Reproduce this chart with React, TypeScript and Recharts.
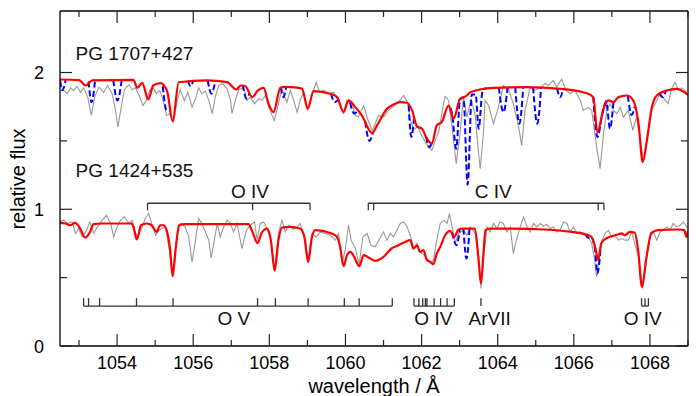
import React from 'react';
import { LineChart, Line, XAxis, YAxis, ReferenceLine, ReferenceDot } from 'recharts';

type Pt = [number, number];

// ---------- axis ticks ----------
const xTicks = [1053, 1054, 1055, 1056, 1057, 1058, 1059, 1060, 1061, 1062, 1063, 1064, 1065, 1066, 1067, 1068, 1069];
const xLabelTicks = [1054, 1056, 1058, 1060, 1062, 1064, 1066, 1068];
const yTicks = [0, 0.5, 1, 1.5, 2];
const yLabelTicks = [0, 1, 2];

// ---------- PG 1707+427 (shifted by +1) ----------
const topObserved: Pt[] = [
  [1052.50, 1.942], [1052.56, 1.883], [1052.69, 1.845], [1052.78, 1.888], [1052.86, 1.869], [1052.95, 1.898],
  [1053.04, 1.856], [1053.12, 1.888], [1053.23, 1.820], [1053.32, 1.686], [1053.41, 1.820], [1053.52, 1.893],
  [1053.65, 1.856], [1053.75, 1.905], [1053.87, 1.845], [1053.96, 1.723], [1054.02, 1.601], [1054.11, 1.747],
  [1054.19, 1.874], [1054.31, 1.912], [1054.40, 1.874], [1054.48, 1.888], [1054.57, 1.839], [1054.68, 1.759],
  [1054.77, 1.796], [1054.86, 1.874], [1054.95, 1.888], [1055.03, 1.845], [1055.12, 1.869], [1055.21, 1.796],
  [1055.30, 1.686], [1055.38, 1.699], [1055.47, 1.637], [1055.58, 1.796], [1055.66, 1.874], [1055.77, 1.796],
  [1055.86, 1.856], [1055.97, 1.747], [1056.06, 1.808], [1056.14, 1.888], [1056.23, 1.845], [1056.32, 1.864],
  [1056.41, 1.796], [1056.50, 1.699], [1056.58, 1.820], [1056.67, 1.905], [1056.78, 1.918], [1056.89, 1.881],
  [1056.98, 1.796], [1057.02, 1.701], [1057.11, 1.796], [1057.19, 1.874], [1057.33, 1.888], [1057.41, 1.796],
  [1057.50, 1.820], [1057.61, 1.772], [1057.72, 1.808], [1057.81, 1.796], [1057.90, 1.832], [1057.98, 1.747],
  [1058.13, 1.650], [1058.24, 1.772], [1058.33, 1.881], [1058.46, 1.783], [1058.55, 1.869], [1058.64, 1.796],
  [1058.73, 1.710], [1058.81, 1.796], [1058.90, 1.856], [1059.01, 1.723], [1059.12, 1.832], [1059.23, 1.929],
  [1059.32, 1.856], [1059.43, 1.869], [1059.56, 1.845], [1059.69, 1.856], [1059.82, 1.796], [1059.95, 1.703],
  [1060.04, 1.796], [1060.17, 1.772], [1060.26, 1.686], [1060.34, 1.674], [1060.48, 1.759], [1060.58, 1.662],
  [1060.70, 1.577], [1060.78, 1.626], [1060.87, 1.686], [1061.00, 1.674], [1061.13, 1.723], [1061.26, 1.752],
  [1061.39, 1.783], [1061.53, 1.832], [1061.63, 1.783], [1061.70, 1.662], [1061.79, 1.582], [1061.89, 1.601],
  [1061.98, 1.553], [1062.10, 1.491], [1062.18, 1.455], [1062.27, 1.431], [1062.36, 1.504], [1062.45, 1.564],
  [1062.56, 1.747], [1062.62, 1.825], [1062.71, 1.796], [1062.82, 1.553], [1062.91, 1.334], [1063.01, 1.553],
  [1063.10, 1.820], [1063.19, 1.674], [1063.30, 1.810], [1063.41, 1.686], [1063.49, 1.431], [1063.54, 1.297],
  [1063.62, 1.540], [1063.67, 1.796], [1063.76, 1.759], [1063.89, 1.626], [1064.02, 1.747], [1064.15, 1.905],
  [1064.28, 1.881], [1064.41, 1.772], [1064.55, 1.601], [1064.63, 1.467], [1064.72, 1.723], [1064.85, 1.888],
  [1064.98, 1.869], [1065.12, 1.888], [1065.25, 1.922], [1065.33, 1.905], [1065.46, 1.942], [1065.55, 1.893],
  [1065.68, 1.951], [1065.80, 1.869], [1065.90, 1.845], [1066.03, 1.869], [1066.17, 1.796], [1066.25, 1.723],
  [1066.38, 1.747], [1066.47, 1.723], [1066.60, 1.455], [1066.69, 1.297], [1066.78, 1.553], [1066.87, 1.723],
  [1066.95, 1.772], [1067.04, 1.723], [1067.13, 1.699], [1067.22, 1.747], [1067.30, 1.674], [1067.43, 1.723],
  [1067.55, 1.577], [1067.65, 1.674], [1067.79, 1.431], [1067.83, 1.345], [1067.92, 1.504], [1068.05, 1.723],
  [1068.18, 1.796], [1068.27, 1.845], [1068.40, 1.796], [1068.48, 1.772], [1068.57, 1.881], [1068.66, 1.929],
  [1068.75, 1.869], [1068.84, 1.888], [1068.92, 1.869], [1069.00, 1.837],
];

const topModelRed: Pt[] = [
  [1052.50, 1.949], [1053.00, 1.945], [1053.17, 1.905], [1053.35, 1.942], [1054.43, 1.947], [1054.53, 1.888],
  [1054.66, 1.925], [1054.82, 1.803], [1054.95, 1.905], [1055.14, 1.922], [1055.31, 1.869], [1055.46, 1.645],
  [1055.62, 1.929], [1056.36, 1.942], [1056.89, 1.930], [1057.13, 1.876], [1057.25, 1.905], [1057.37, 1.900],
  [1057.55, 1.820], [1057.70, 1.870], [1057.85, 1.888], [1057.98, 1.772], [1058.11, 1.710], [1058.29, 1.888],
  [1058.42, 1.895], [1058.73, 1.890], [1058.86, 1.881], [1059.01, 1.735], [1059.16, 1.864], [1059.60, 1.845],
  [1059.78, 1.820], [1059.95, 1.710], [1060.08, 1.796], [1060.26, 1.747], [1060.43, 1.686], [1060.70, 1.557],
  [1060.83, 1.613], [1061.09, 1.735], [1061.26, 1.766], [1061.44, 1.783], [1061.62, 1.779], [1061.75, 1.723],
  [1061.88, 1.606], [1062.01, 1.589], [1062.14, 1.516], [1062.27, 1.480], [1062.40, 1.613], [1062.53, 1.637],
  [1062.71, 1.759], [1062.84, 1.662], [1063.01, 1.808], [1063.19, 1.832], [1063.28, 1.856], [1063.89, 1.888],
  [1064.77, 1.893], [1065.64, 1.881], [1066.34, 1.849], [1066.51, 1.820], [1066.62, 1.564], [1066.78, 1.735],
  [1066.91, 1.796], [1067.04, 1.783], [1067.17, 1.820], [1067.39, 1.832], [1067.56, 1.796], [1067.70, 1.626],
  [1067.81, 1.345], [1067.92, 1.504], [1068.05, 1.747], [1068.18, 1.832], [1068.44, 1.869], [1068.70, 1.881],
  [1069.00, 1.837],
];

// blue dashed model: only where it departs from the red one
const topModelBlue: Pt[][] = [
  [[1052.50, 1.940], [1052.56, 1.870], [1052.65, 1.945]],
  [[1053.25, 1.935], [1053.33, 1.783], [1053.42, 1.940]],
  [[1053.90, 1.945], [1054.01, 1.796], [1054.12, 1.945]],
  [[1055.20, 1.900], [1055.30, 1.723], [1055.38, 1.720]],
  [[1055.86, 1.940], [1055.93, 1.900], [1056.00, 1.940]],
  [[1056.38, 1.942], [1056.48, 1.845], [1056.58, 1.938]],
  [[1057.30, 1.910], [1057.40, 1.810], [1057.48, 1.850]],
  [[1058.30, 1.890], [1058.37, 1.820], [1058.44, 1.893]],
  [[1059.62, 1.843], [1059.72, 1.783], [1059.80, 1.800]],
  [[1060.12, 1.780], [1060.23, 1.700], [1060.32, 1.720]],
  [[1060.52, 1.640], [1060.63, 1.500], [1060.72, 1.560]],
  [[1061.66, 1.760], [1061.73, 1.530], [1061.80, 1.660]],
  [[1062.12, 1.530], [1062.20, 1.455], [1062.27, 1.484]],
  [[1062.76, 1.740], [1062.80, 1.700], [1062.91, 1.443], [1063.01, 1.800], [1063.10, 1.820], [1063.21, 1.180],
   [1063.32, 1.840], [1063.42, 1.840], [1063.50, 1.589], [1063.60, 1.860], [1063.70, 1.888]],
  [[1064.03, 1.890], [1064.15, 1.710], [1064.26, 1.890]],
  [[1064.46, 1.893], [1064.57, 1.626], [1064.67, 1.893]],
  [[1064.93, 1.893], [1065.04, 1.626], [1065.14, 1.892]],
  [[1065.56, 1.884], [1065.64, 1.820], [1065.72, 1.880]],
  [[1066.51, 1.820], [1066.62, 1.528], [1066.75, 1.700], [1066.85, 1.790], [1066.95, 1.589], [1067.04, 1.783]],
  [[1067.42, 1.830], [1067.52, 1.690], [1067.60, 1.750]],
  [[1068.25, 1.850], [1068.33, 1.820], [1068.42, 1.865]],
];

// ---------- PG 1424+535 ----------
const bottomObserved: Pt[] = [
  [1052.50, 0.907], [1052.60, 0.920], [1052.69, 0.896], [1052.82, 0.907], [1052.91, 0.823], [1052.99, 0.859],
  [1053.08, 0.798], [1053.20, 0.847], [1053.28, 0.907], [1053.39, 0.823], [1053.48, 0.871], [1053.61, 0.920],
  [1053.72, 0.956], [1053.83, 0.896], [1053.91, 0.798], [1054.00, 0.871], [1054.09, 0.920], [1054.19, 0.944],
  [1054.31, 0.896], [1054.40, 0.920], [1054.48, 0.834], [1054.54, 0.798], [1054.66, 0.871], [1054.74, 0.932],
  [1054.83, 0.969], [1054.92, 0.883], [1055.01, 0.810], [1055.09, 0.847], [1055.18, 0.859], [1055.27, 0.871],
  [1055.36, 0.725], [1055.46, 0.531], [1055.56, 0.774], [1055.66, 0.896], [1055.79, 0.871], [1055.88, 0.798],
  [1055.97, 0.613], [1056.06, 0.774], [1056.14, 0.932], [1056.23, 0.896], [1056.32, 0.834], [1056.41, 0.774],
  [1056.47, 0.642], [1056.54, 0.750], [1056.63, 0.896], [1056.71, 0.798], [1056.80, 0.871], [1056.89, 0.920],
  [1056.98, 0.896], [1057.06, 0.834], [1057.15, 0.896], [1057.28, 0.713], [1057.40, 0.847], [1057.50, 0.883],
  [1057.61, 0.907], [1057.68, 0.774], [1057.76, 0.896], [1057.85, 0.907], [1057.94, 0.859], [1058.04, 0.774],
  [1058.14, 0.555], [1058.24, 0.823], [1058.33, 0.920], [1058.42, 0.834], [1058.51, 0.883], [1058.64, 0.852],
  [1058.73, 0.871], [1058.81, 0.896], [1058.92, 0.798], [1059.02, 0.628], [1059.12, 0.823], [1059.23, 0.798],
  [1059.34, 0.834], [1059.47, 0.823], [1059.60, 0.810], [1059.73, 0.774], [1059.82, 0.823], [1059.91, 0.604],
  [1060.00, 0.713], [1060.08, 0.883], [1060.15, 0.774], [1060.26, 0.713], [1060.36, 0.599], [1060.46, 0.798],
  [1060.57, 0.823], [1060.67, 0.737], [1060.78, 0.725], [1060.90, 0.786], [1061.00, 0.834], [1061.09, 0.774],
  [1061.18, 0.823], [1061.26, 0.798], [1061.35, 0.847], [1061.44, 0.896], [1061.53, 0.907], [1061.62, 0.871],
  [1061.70, 0.810], [1061.79, 0.713], [1061.88, 0.750], [1061.96, 0.688], [1062.07, 0.664], [1062.14, 0.640],
  [1062.23, 0.604], [1062.31, 0.628], [1062.40, 0.774], [1062.49, 0.896], [1062.58, 0.920], [1062.67, 0.896],
  [1062.73, 0.969], [1062.82, 0.847], [1062.88, 0.750], [1062.97, 0.823], [1063.10, 0.847], [1063.19, 0.810],
  [1063.28, 0.871], [1063.41, 0.823], [1063.50, 0.652], [1063.56, 0.421], [1063.63, 0.652], [1063.72, 0.871],
  [1063.80, 0.834], [1063.89, 0.896], [1063.98, 0.859], [1064.06, 0.907], [1064.15, 0.896], [1064.24, 0.834],
  [1064.33, 0.871], [1064.41, 0.677], [1064.50, 0.786], [1064.59, 0.871], [1064.68, 0.944], [1064.77, 0.871],
  [1064.85, 0.834], [1064.94, 0.896], [1065.03, 0.871], [1065.12, 0.896], [1065.20, 0.876], [1065.29, 0.891],
  [1065.38, 0.859], [1065.46, 0.871], [1065.55, 0.834], [1065.64, 0.847], [1065.73, 0.907], [1065.82, 0.896],
  [1065.90, 0.834], [1065.99, 0.871], [1066.08, 0.823], [1066.17, 0.834], [1066.30, 0.810], [1066.38, 0.798],
  [1066.47, 0.750], [1066.54, 0.640], [1066.60, 0.506], [1066.67, 0.652], [1066.74, 0.774], [1066.82, 0.823],
  [1066.91, 0.847], [1067.00, 0.798], [1067.08, 0.810], [1067.17, 0.774], [1067.26, 0.786], [1067.35, 0.774],
  [1067.43, 0.774], [1067.52, 0.834], [1067.61, 0.737], [1067.70, 0.652], [1067.81, 0.421], [1067.92, 0.652],
  [1068.00, 0.798], [1068.09, 0.834], [1068.18, 0.774], [1068.27, 0.834], [1068.35, 0.847], [1068.44, 0.871],
  [1068.53, 0.847], [1068.61, 0.896], [1068.70, 0.871], [1068.79, 0.883], [1068.88, 0.907], [1068.97, 0.871],
  [1069.00, 0.859],
];

const bottomModelRed: Pt[] = [
  [1052.50, 0.900], [1052.64, 0.896], [1052.77, 0.883], [1052.90, 0.900], [1053.03, 0.859], [1053.16, 0.793],
  [1053.29, 0.834], [1053.38, 0.891], [1053.59, 0.896], [1054.38, 0.896], [1054.43, 0.869], [1054.52, 0.779],
  [1054.63, 0.883], [1054.78, 0.896], [1054.91, 0.883], [1055.04, 0.834], [1055.13, 0.883], [1055.22, 0.883],
  [1055.30, 0.847], [1055.39, 0.713], [1055.46, 0.511], [1055.54, 0.713], [1055.63, 0.883], [1055.79, 0.891],
  [1057.45, 0.891], [1057.54, 0.847], [1057.69, 0.752], [1057.80, 0.828], [1057.94, 0.859], [1058.04, 0.774],
  [1058.14, 0.551], [1058.24, 0.774], [1058.33, 0.866], [1058.55, 0.871], [1058.81, 0.859], [1058.92, 0.798],
  [1059.02, 0.615], [1059.12, 0.798], [1059.21, 0.847], [1059.60, 0.827], [1059.78, 0.798], [1059.86, 0.725],
  [1059.95, 0.584], [1060.04, 0.664], [1060.13, 0.688], [1060.23, 0.652], [1060.36, 0.584], [1060.48, 0.664],
  [1060.65, 0.640], [1060.78, 0.623], [1061.00, 0.652], [1061.21, 0.713], [1061.39, 0.737], [1061.57, 0.761],
  [1061.70, 0.774], [1061.79, 0.713], [1061.88, 0.737], [1061.96, 0.688], [1062.05, 0.701], [1062.14, 0.628],
  [1062.23, 0.615], [1062.31, 0.599], [1062.40, 0.677], [1062.49, 0.725], [1062.62, 0.810], [1062.75, 0.842],
  [1062.86, 0.798], [1062.97, 0.852], [1063.10, 0.859], [1063.40, 0.859], [1063.49, 0.652], [1063.56, 0.458],
  [1063.62, 0.652], [1063.68, 0.847], [1063.79, 0.859], [1064.36, 0.859], [1065.24, 0.852], [1065.94, 0.834],
  [1066.29, 0.818], [1066.46, 0.798], [1066.57, 0.713], [1066.64, 0.628], [1066.72, 0.750], [1066.81, 0.779],
  [1066.99, 0.803], [1067.16, 0.815], [1067.25, 0.823], [1067.34, 0.810], [1067.47, 0.834], [1067.60, 0.828],
  [1067.69, 0.701], [1067.79, 0.433], [1067.91, 0.652], [1068.04, 0.827], [1068.21, 0.847], [1068.74, 0.852],
  [1068.90, 0.847], [1068.96, 0.798], [1069.00, 0.839],
];

const bottomModelBlue: Pt[][] = [
  [[1062.80, 0.830], [1062.92, 0.737], [1063.00, 0.850]],
  [[1063.10, 0.859], [1063.18, 0.640], [1063.26, 0.859]],
  [[1066.30, 0.818], [1066.38, 0.790], [1066.46, 0.795], [1066.55, 0.720], [1066.62, 0.531], [1066.70, 0.700]],
];

// ---------- line identifications (wavelengths, Å) ----------
const oIVBracket = [1054.80, 1057.56, 1059.07];
const cIVBracket = [1060.60, 1060.74, 1066.64, 1066.79];
const oVLines = [1053.12, 1053.25, 1053.54, 1054.51, 1055.47, 1057.69, 1058.16, 1059.02, 1059.97, 1060.36, 1061.23];
const oIVLinesA = [1061.80, 1061.93, 1062.03, 1062.10, 1062.14, 1062.33, 1062.50, 1062.67, 1062.86];
const arVIILines = [1063.56];
const oIVLinesB = [1067.78, 1067.87, 1067.96];

const FONT = "'Liberation Sans', Arial, Helvetica, sans-serif";
const AX = { xAxisId: 'b', yAxisId: 'l' } as const;

const rows = (a: Pt[]) => a.map(([w, f]) => ({ w, f }));
const segRows = (segs: Pt[][]) => {
  const out: { w: number; f: number | null }[] = [];
  segs.forEach((s) => {
    s.forEach(([w, f]) => out.push({ w, f }));
    out.push({ w: s[s.length - 1][0] + 0.001, f: null });
  });
  return out;
};

const BottomTick = (p: any) => {
  const v = p.payload.value;
  const major = xLabelTicks.includes(v);
  return (
    <g>
      <line x1={p.x} x2={p.x} y1={p.y} y2={p.y - (major ? 12 : 6)} stroke="#222" strokeWidth={1.2} />
      {major && (
        <text x={p.x} y={p.y + 23} textAnchor="middle" fontSize={18} fontFamily={FONT} fill="#000">
          {v}
        </text>
      )}
    </g>
  );
};
const TopTick = (p: any) => {
  const major = xLabelTicks.includes(p.payload.value);
  return <line x1={p.x} x2={p.x} y1={p.y} y2={p.y + (major ? 12 : 6)} stroke="#222" strokeWidth={1.2} />;
};
const LeftTick = (p: any) => {
  const v = p.payload.value;
  const major = yLabelTicks.includes(v);
  return (
    <g>
      <line x1={p.x} x2={p.x + (major ? 12 : 7)} y1={p.y} y2={p.y} stroke="#222" strokeWidth={1.2} />
      {major && (
        <text x={p.x - 16} y={p.y + 6.5} textAnchor="end" fontSize={18} fontFamily={FONT} fill="#000">
          {v}
        </text>
      )}
    </g>
  );
};
const RightTick = (p: any) => {
  const major = yLabelTicks.includes(p.payload.value);
  return <line x1={p.x} x2={p.x - (major ? 12 : 7)} y1={p.y} y2={p.y} stroke="#222" strokeWidth={1.2} />;
};

const textAt = (label: string, w: number, f: number, anchor: 'start' | 'middle' = 'middle') => (
  <ReferenceDot
    key={label + w}
    {...AX}
    x={w}
    y={f}
    r={0}
    ifOverflow="visible"
    shape={(p: any) => (
      <text x={p.cx} y={p.cy} textAnchor={anchor} fontSize={19} fontFamily={FONT} fill="#111">
        {label}
      </text>
    )}
  />
);

const seg = (k: string, x1: number, y1: number, x2: number, y2: number) => (
  <ReferenceLine
    key={k}
    {...AX}
    segment={[{ x: x1, y: y1 }, { x: x2, y: y2 }]}
    stroke="#333"
    strokeWidth={1.3}
    ifOverflow="visible"
  />
);

const bracket = (k: string, ws: number[]) => [
  seg(k + 'h', ws[0], 1.044, ws[ws.length - 1], 1.044),
  ...ws.map((w, i) => seg(k + i, w, 1.044, w, 0.993)),
];
const lineList = (k: string, ws: number[]) => [
  ...(ws.length > 1 ? [seg(k + 'h', ws[0], 0.292, ws[ws.length - 1], 0.292)] : []),
  ...ws.map((w, i) => seg(k + i, w, 0.292, w, 0.35)),
];

export default function App() {
  const axisLine = { stroke: '#000', strokeWidth: 1.3 };
  return (
    <div style={{ position: 'absolute', left: 0, top: 0 }}>
      <LineChart width={696} height={396} margin={{ top: 10, right: 7, bottom: 20, left: 59 }}>
        <XAxis
          xAxisId="b"
          dataKey="w"
          type="number"
          domain={[1052.5, 1069]}
          allowDataOverflow
          ticks={xTicks}
          interval={0}
          height={30}
          tickSize={0}
          tickMargin={0}
          tickLine={false}
          axisLine={axisLine}
          tick={BottomTick}
        />
        <XAxis
          xAxisId="t"
          orientation="top"
          dataKey="w"
          type="number"
          domain={[1052.5, 1069]}
          allowDataOverflow
          ticks={xTicks}
          interval={0}
          height={1}
          tickSize={0}
          tickMargin={0}
          tickLine={false}
          axisLine={axisLine}
          tick={TopTick}
        />
        <YAxis
          yAxisId="l"
          type="number"
          domain={[0, 2.45]}
          allowDataOverflow
          ticks={yTicks}
          interval={0}
          width={1}
          tickSize={0}
          tickMargin={0}
          tickLine={false}
          axisLine={axisLine}
          tick={LeftTick}
        />
        <YAxis
          yAxisId="r"
          orientation="right"
          type="number"
          domain={[0, 2.45]}
          allowDataOverflow
          ticks={yTicks}
          interval={0}
          width={1}
          tickSize={0}
          tickMargin={0}
          tickLine={false}
          axisLine={axisLine}
          tick={RightTick}
        />

        <Line {...AX} data={rows(topObserved)} dataKey="f" type="linear" stroke="#999" strokeWidth={1.1} dot={false} isAnimationActive={false} />
        <Line {...AX} data={rows(bottomObserved)} dataKey="f" type="linear" stroke="#999" strokeWidth={1.1} dot={false} isAnimationActive={false} />
        <Line {...AX} data={segRows(topModelBlue)} dataKey="f" type="monotone" stroke="#0000ff" strokeWidth={2} strokeDasharray="6 3" dot={false} connectNulls={false} isAnimationActive={false} />
        <Line {...AX} data={segRows(bottomModelBlue)} dataKey="f" type="monotone" stroke="#0000ff" strokeWidth={2} strokeDasharray="6 3" dot={false} connectNulls={false} isAnimationActive={false} />
        <Line {...AX} data={rows(topModelRed)} dataKey="f" type="monotone" stroke="#ff0000" strokeWidth={2.2} dot={false} isAnimationActive={false} />
        <Line {...AX} data={rows(bottomModelRed)} dataKey="f" type="monotone" stroke="#ff0000" strokeWidth={2.2} dot={false} isAnimationActive={false} />

        {bracket('oiv', oIVBracket)}
        {bracket('civ', cIVBracket)}
        {lineList('ov', oVLines)}
        {lineList('oiva', oIVLinesA)}
        {lineList('ar', arVIILines)}
        {lineList('oivb', oIVLinesB)}

        {textAt('PG 1707+427', 1052.91, 2.093, 'start')}
        {textAt('PG 1424+535', 1052.91, 1.236, 'start')}
        {textAt('O IV', 1057.49, 1.08)}
        {textAt('C IV', 1063.88, 1.08)}
        {textAt('O V', 1057.07, 0.153)}
        {textAt('O IV', 1062.31, 0.153)}
        {textAt('ArVII', 1063.79, 0.153)}
        {textAt('O IV', 1067.81, 0.153)}

        <text x={374} y={393} textAnchor="middle" fontSize={20} fontFamily={FONT} fill="#000">
          wavelength / Å
        </text>
        <text x={25} y={179} textAnchor="middle" fontSize={20} fontFamily={FONT} fill="#000" transform="rotate(-90 25 179)">
          relative flux
        </text>
      </LineChart>
    </div>
  );
}
